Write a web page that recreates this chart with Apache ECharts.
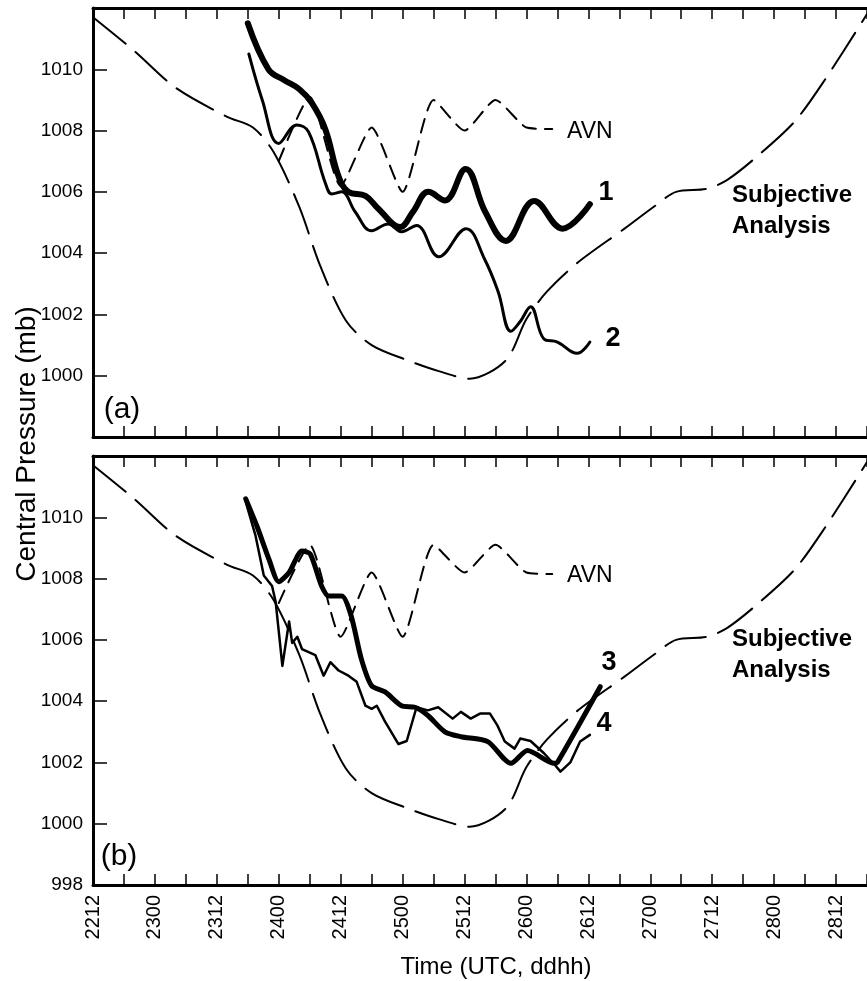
<!DOCTYPE html>
<html>
<head>
<meta charset="utf-8">
<script src="https://cdn.jsdelivr.net/npm/echarts@6/dist/echarts.min.js"></script>
<style>
html,body{margin:0;padding:0;background:#fff;}
#c{width:867px;height:981px;}
</style>
</head>
<body>
<div id="c"></div>
<script>
// hours since 2212 UTC
const xTickLabels = ['2212','2300','2312','2400','2412','2500','2512','2600','2612','2700','2712','2800','2812'];

// Subjective analysis (same in both panels)
const subjT = [0, 8, 16, 26, 31, 35, 40, 44, 49, 54, 61, 67, 73, 80, 84, 88, 94, 103, 109, 113, 119, 123, 129, 136, 142, 150];
const subjP = [1011.7, 1010.6, 1009.4, 1008.45, 1008.1, 1007.3, 1005.5, 1003.6, 1001.8, 1001.0, 1000.5, 1000.15, 999.9, 1000.5, 1001.85, 1002.75, 1003.7, 1004.8, 1005.55, 1006.0, 1006.1, 1006.4, 1007.2, 1008.3, 1009.7, 1011.8];

// AVN
const avnT = [36, 42, 48, 54, 60, 66, 72, 78, 84, 89];
const avnTopP = [1007.0, 1009.1, 1006.2, 1008.1, 1006.0, 1009.0, 1008.0, 1009.0, 1008.1, 1008.05];
const avnBotP = [1007.2, 1009.1, 1006.1, 1008.2, 1006.1, 1009.1, 1008.2, 1009.1, 1008.2, 1008.15];

// Experiment 1 (panel a, thick)
const s1T = [30, 34, 37, 40, 42.4, 45, 47.6, 49.5, 52.8, 55.3, 59.5, 62, 65, 68.2, 72.2, 76, 80, 85.5, 91, 96.3];
const s1P = [1011.5, 1010.0, 1009.65, 1009.35, 1008.9, 1008.05, 1006.5, 1006.0, 1005.87, 1005.45, 1004.85, 1005.35, 1006.0, 1005.72, 1006.75, 1005.35, 1004.4, 1005.7, 1004.8, 1005.6];

// Experiment 2 (panel a, thin)
const s2T = [30.2, 32.8, 36, 39.5, 41.8, 45, 46.3, 48.2, 50.8, 54, 57.2, 59.8, 62.7, 67, 72.3, 75.9, 78.5, 81, 82.8, 84.8, 87.4, 90, 93.8, 96.3];
const s2P = [1010.5, 1009.0, 1007.58, 1008.18, 1007.95, 1006.3, 1005.93, 1006.0, 1005.35, 1004.73, 1004.95, 1004.7, 1004.9, 1003.88, 1004.8, 1003.8, 1002.75, 1001.45, 1001.77, 1002.25, 1001.2, 1001.1, 1000.73, 1001.1];

// Experiment 3 (panel b, thick)
const s3T = [29.6, 31.8, 34.1, 36, 38, 40.5, 42.1, 44.3, 45.7, 48.2, 50, 52, 54, 56.6, 59.8, 62.4, 64.9, 68.2, 71.3, 76.5, 81, 84.2, 89.4, 90, 98.3];
const s3P = [1010.6, 1009.7, 1008.63, 1007.9, 1008.2, 1008.9, 1008.8, 1007.76, 1007.43, 1007.43, 1006.8, 1005.38, 1004.5, 1004.3, 1003.85, 1003.8, 1003.53, 1003.0, 1002.84, 1002.68, 1001.97, 1002.39, 1001.97, 1002.0, 1004.47];

// Experiment 4 (panel b, thin)
const s4T = [29.6, 31.5, 33.1, 34.7, 35.4, 36.7, 38, 38.6, 39.6, 40.5, 41.8, 43.1, 44.7, 46, 47.6, 49.5, 51.1, 52.8, 54, 55, 56.6, 59.2, 60.8, 62.7, 64.9, 66.9, 69.7, 71.3, 73.2, 75.1, 76.9, 78.4, 79.8, 81.7, 82.8, 84.8, 87.4, 89.6, 90.6, 92.5, 94.4, 96.3];
const s4P = [1010.5, 1009.4, 1008.1, 1007.76, 1007.24, 1005.15, 1006.6, 1005.9, 1006.1, 1005.7, 1005.6, 1005.5, 1004.83, 1005.27, 1005.0, 1004.83, 1004.63, 1003.85, 1003.75, 1003.85, 1003.33, 1002.6, 1002.7, 1003.8, 1003.7, 1003.8, 1003.43, 1003.65, 1003.43, 1003.6, 1003.6, 1003.2, 1002.68, 1002.45, 1002.78, 1002.7, 1002.3, 1001.9, 1001.7, 1002.0, 1002.68, 1002.9];

const zip = (t, p) => t.map((v, i) => [v, p[i]]);
const FONT = '"Liberation Sans", Arial, sans-serif';

function xAxes(gi, showLabels) {
  const base = {
    gridIndex: gi, type: 'value', min: 0, max: 150, interval: 6,
    axisLine: { show: true, onZero: false, lineStyle: { color: '#000', width: 3 } },
    axisTick: { show: true, inside: true, length: 11, lineStyle: { color: '#000', width: 1.5 } },
    splitLine: { show: false }
  };
  return [
    Object.assign({}, base, {
      position: 'bottom',
      axisLabel: {
        show: showLabels, rotate: 90, margin: 10, color: '#000', fontSize: 20, fontFamily: FONT,
        formatter: v => (v % 12 === 0 && xTickLabels[v / 12] !== undefined) ? xTickLabels[v / 12] : ''
      }
    }),
    Object.assign({}, base, { position: 'top', axisLabel: { show: false } })
  ];
}

function yAxis(gi, showMin) {
  return {
    gridIndex: gi, type: 'value', min: 998, max: 1012, interval: 2,
    axisLine: { show: true, onZero: false, lineStyle: { color: '#000', width: 3 } },
    axisTick: { show: true, inside: true, length: 14, lineStyle: { color: '#000', width: 1.5 } },
    axisLabel: { color: '#000', fontSize: 19, fontFamily: FONT, margin: 10, showMinLabel: showMin, showMaxLabel: false,
      formatter: v => String(v) },
    splitLine: { show: false }
  };
}

function line(xi, yi, data, width, dash, smooth) {
  return {
    type: 'line', xAxisIndex: xi, yAxisIndex: yi, data: data, showSymbol: false, symbol: 'none',
    smooth: smooth, lineStyle: { color: '#000', width: width, type: dash, cap: 'round', join: 'round' },
    silent: true
  };
}

function txt(x, y, text, size, bold, align) {
  return {
    type: 'text', x: x, y: y, silent: true,
    style: { text: text, fill: '#000', font: (bold ? 'bold ' : '') + size + 'px ' + FONT,
      textAlign: align || 'center', textVerticalAlign: 'middle' }
  };
}

const chart = echarts.init(document.getElementById('c'), null, { renderer: 'canvas', width: 867, height: 981 });
chart.setOption({
  animation: false,
  backgroundColor: '#fff',
  grid: [
    { left: 93, top: 8, width: 778, height: 429 },
    { left: 93, top: 456, width: 778, height: 429 }
  ],
  xAxis: [].concat(xAxes(0, false), xAxes(1, true)),
  yAxis: [yAxis(0, false), yAxis(1, true)],
  series: [
    line(0, 0, zip(subjT, subjP), 2, [42, 13], 0.3),
    line(0, 0, zip(avnT, avnTopP), 2, [14, 9], 0.2),
    line(0, 0, zip(s1T, s1P), 6, 'solid', 0.4),
    line(0, 0, zip(s2T, s2P), 3, 'solid', 0.4),
    line(2, 1, zip(subjT, subjP), 2, [42, 13], 0.3),
    line(2, 1, zip(avnT, avnBotP), 2, [14, 9], 0.2),
    line(2, 1, zip(s3T, s3P), 5, 'solid', 0.25),
    line(2, 1, zip(s4T, s4P), 2.5, 'solid', false)
  ],
  graphic: [
    Object.assign(txt(27, 444, 'Central Pressure (mb)', 28, false), { rotation: Math.PI / 2 }),
    txt(496, 967, 'Time (UTC, ddhh)', 24, false),
    txt(122, 410, '(a)', 30, false),
    txt(119, 857, '(b)', 30, false),
    txt(567, 132, 'AVN', 23, false, 'left'),
    txt(567, 576, 'AVN', 23, false, 'left'),
    txt(606, 193, '1', 27, true),
    txt(613, 339, '2', 27, true),
    txt(609, 663, '3', 27, true),
    txt(604, 724, '4', 27, true),
    txt(732, 195, 'Subjective', 24, true, 'left'),
    txt(732, 226, 'Analysis', 24, true, 'left'),
    txt(732, 639, 'Subjective', 24, true, 'left'),
    txt(732, 670, 'Analysis', 24, true, 'left')
  ]
});
</script>
</body>
</html>
